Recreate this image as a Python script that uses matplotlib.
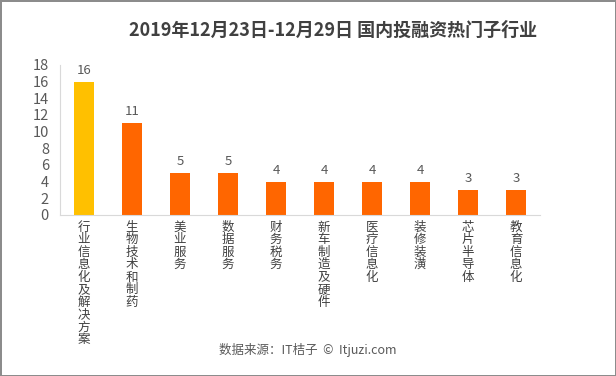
import matplotlib
matplotlib.use('Agg')
import matplotlib.pyplot as plt

plt.rcParams['font.family'] = ['Noto Sans CJK SC', 'DejaVu Sans']

# data
industries = ['行业信息化及解决方案', '生物技术和制药', '美业服务', '数据服务', '财务税务',
              '新车制造及硬件', '医疗信息化', '装修装潢', '芯片半导体', '教育信息化']
counts = [16, 11, 5, 5, 4, 4, 4, 4, 3, 3]
yticks = [0, 2, 4, 6, 8, 10, 12, 14, 16, 18]

title = '2019年12月23日-12月29日 国内投融资热门子行业'
source = '数据来源：IT桔子  ©  Itjuzi.com'

fig = plt.figure(figsize=(6.16, 3.76), dpi=100)
fig.patch.set_edgecolor('#8c8c8c')
fig.patch.set_linewidth(2)
ax = fig.add_axes([60/616, 1-215/376, 480/616, 150/376])

colors = ['#FFC000'] + ['#FF6600'] * (len(counts) - 1)
x = range(len(counts))
bars = ax.bar(x, counts, width=0.4, color=colors)

for b, v in zip(bars, counts):
    ax.text(b.get_x() + b.get_width()/2, v + 0.6, str(v), ha='center', va='bottom',
            fontsize=9.5, color='#595959')

ax.set_xlim(-0.5, len(counts) - 0.5)
ax.set_ylim(0, 18)
ax.set_yticks(yticks)
ax.set_xticks(list(x))
ax.set_xticklabels(['\n'.join(s) for s in industries], va='top', linespacing=0.95)
ax.tick_params(axis='y', length=0, labelsize=10.5, labelcolor='#595959', pad=8)
ax.tick_params(axis='x', length=0, labelsize=9, labelcolor='#404040', pad=4)

for s in ['top', 'right']:
    ax.spines[s].set_visible(False)
for s in ['left', 'bottom']:
    ax.spines[s].set_color('#d9d9d9')

fig.text(333/616, 1-30/376, title, ha='center', va='center', fontsize=13,
         fontweight='bold', color='#404040')
fig.text(0.5, 1-350/376, source, ha='center', va='center', fontsize=9,
         color='#595959')

fig.savefig('out.png', dpi=100)
